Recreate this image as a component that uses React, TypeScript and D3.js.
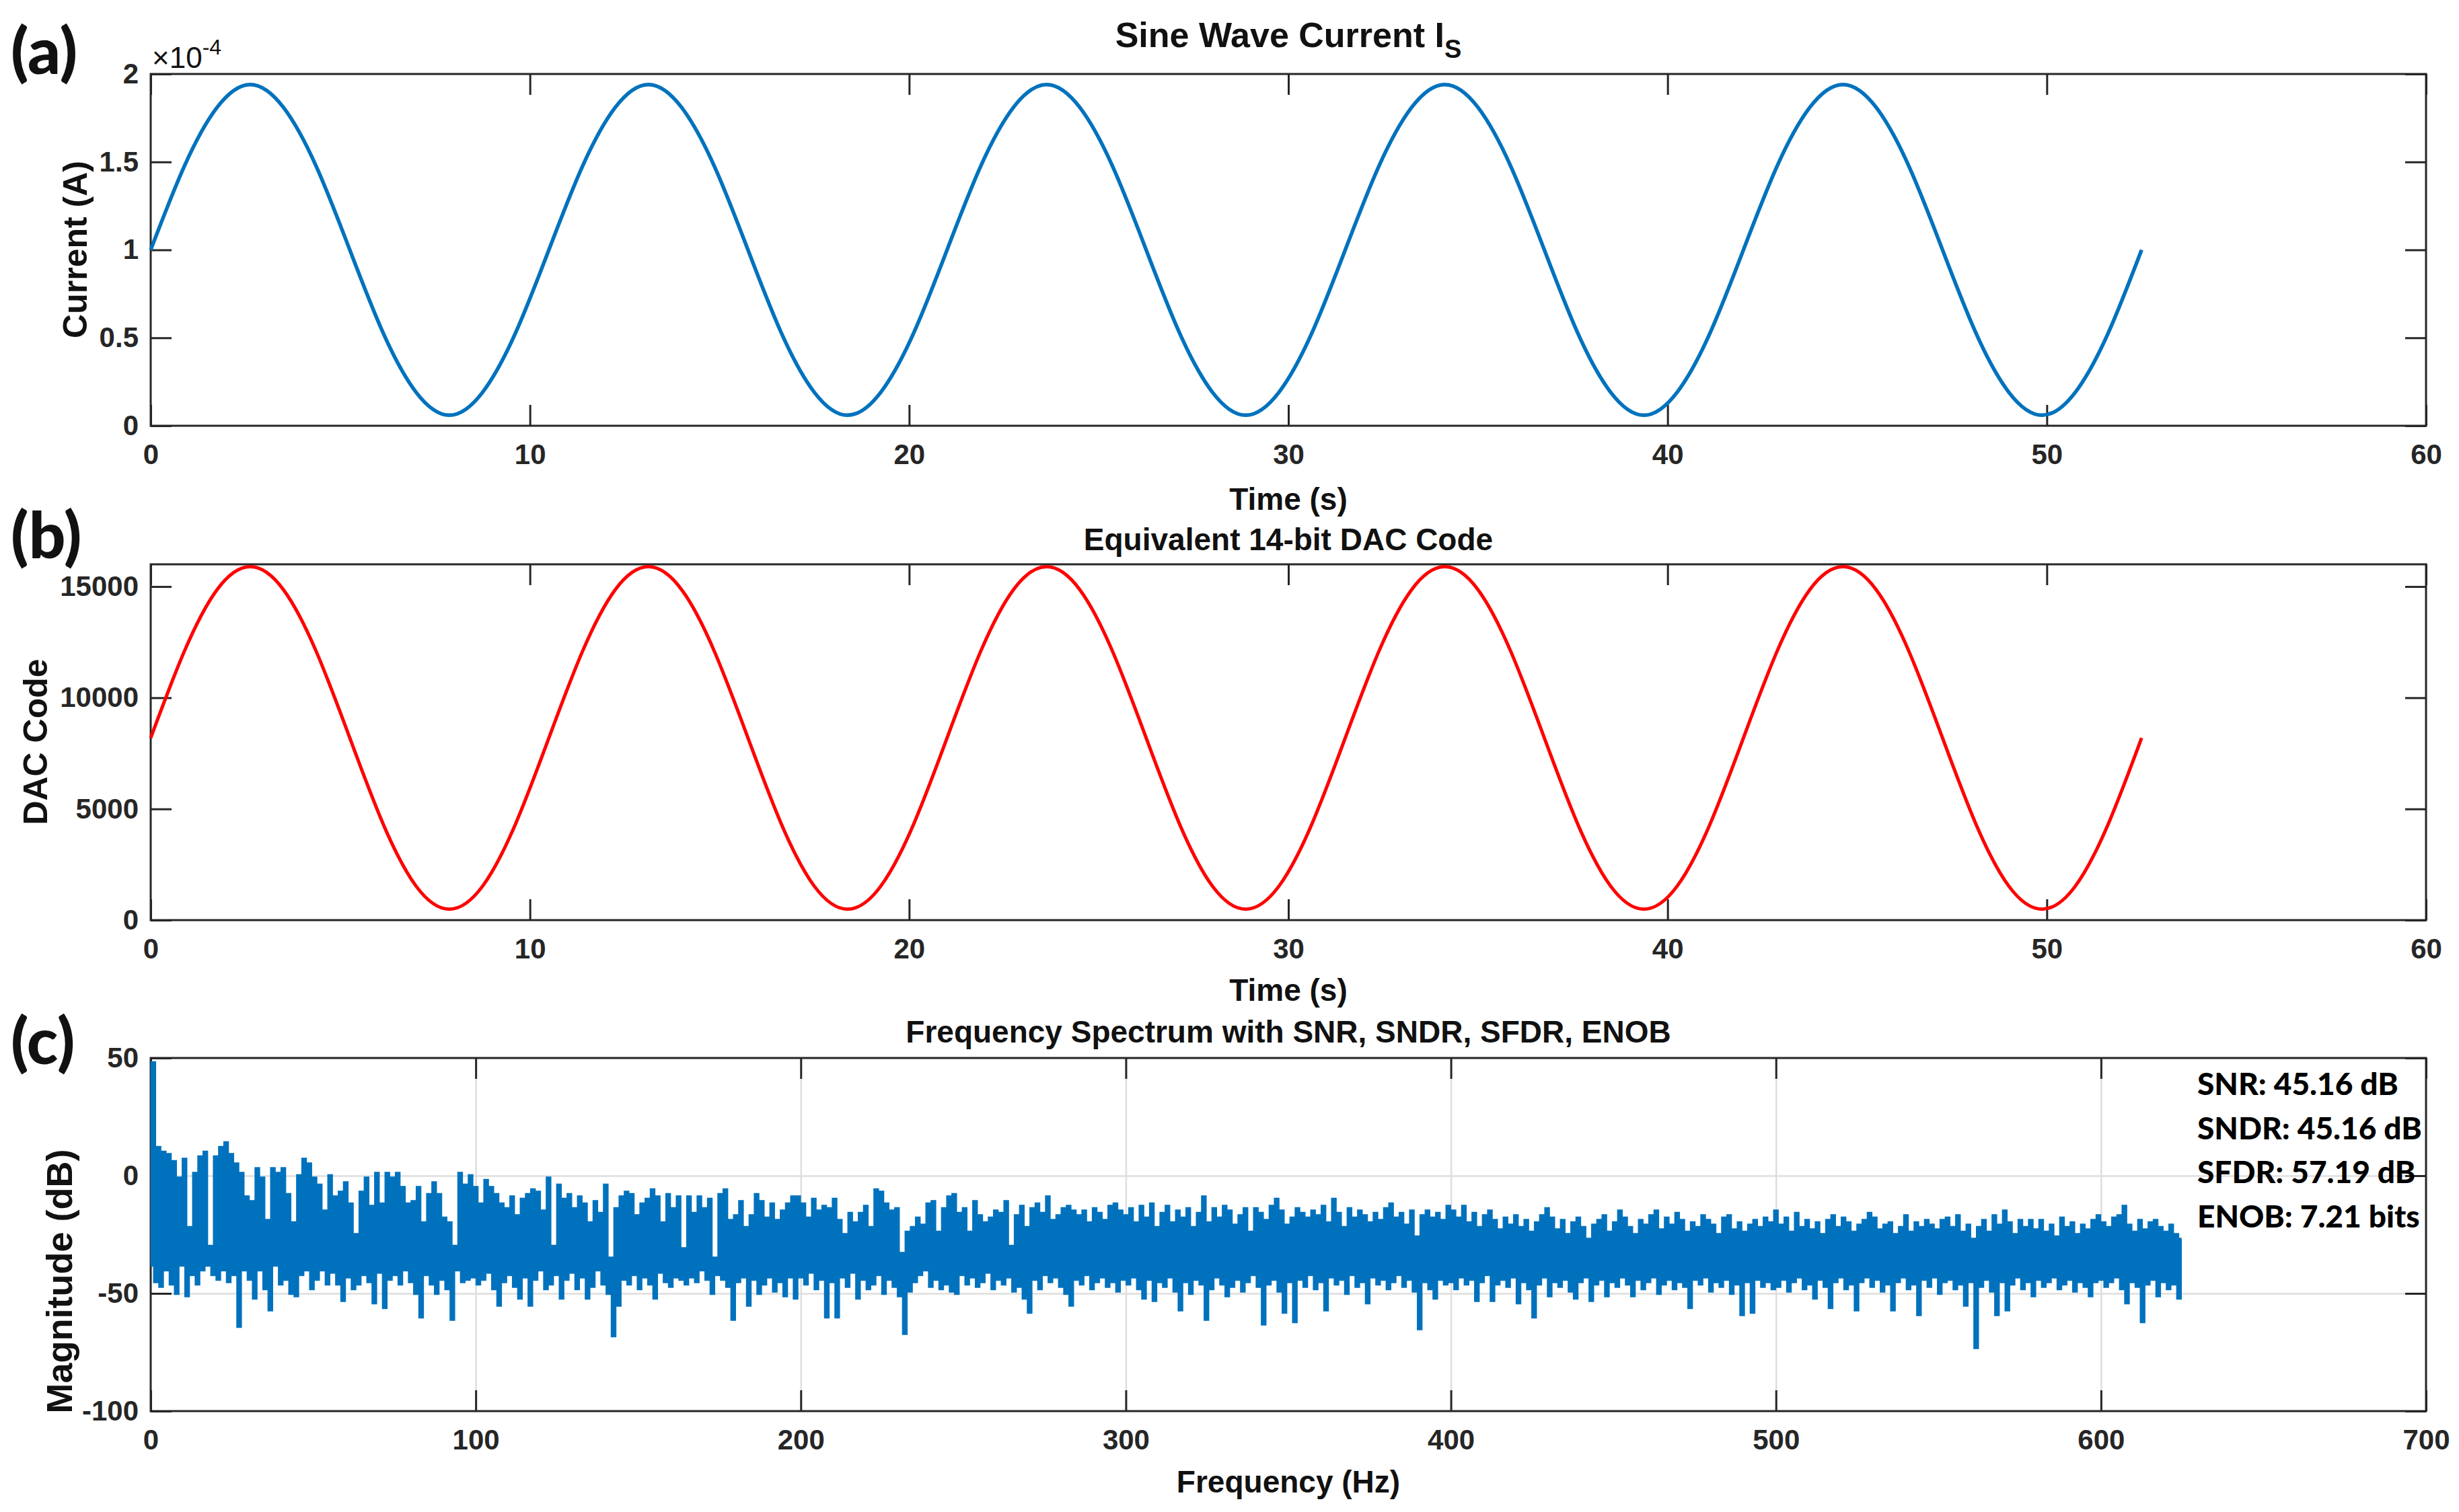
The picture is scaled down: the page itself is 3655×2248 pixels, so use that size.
import { useEffect, useRef } from 'react';
import * as d3 from 'd3';

const W = 3655;
const H = 2248;

// sine current, one sample every 0.875 s (12 per 10.5 s period), in units of 1e-4 A
const timeStep = 0.875;
const currentE4 = [
  1.0, 1.47, 1.81, 1.94, 1.81, 1.47, 1.0, 0.53, 0.19, 0.06, 0.19, 0.53,
  1.0, 1.47, 1.81, 1.94, 1.81, 1.47, 1.0, 0.53, 0.19, 0.06, 0.19, 0.53,
  1.0, 1.47, 1.81, 1.94, 1.81, 1.47, 1.0, 0.53, 0.19, 0.06, 0.19, 0.53,
  1.0, 1.47, 1.81, 1.94, 1.81, 1.47, 1.0, 0.53, 0.19, 0.06, 0.19, 0.53,
  1.0, 1.47, 1.81, 1.94, 1.81, 1.47, 1.0, 0.53, 0.19, 0.06, 0.19, 0.53,
  1.0,
];
const dacCode = [
  8192, 12042, 14860, 15892, 14860, 12042, 8192, 4342, 1524, 492, 1524, 4342,
  8192, 12042, 14860, 15892, 14860, 12042, 8192, 4342, 1524, 492, 1524, 4342,
  8192, 12042, 14860, 15892, 14860, 12042, 8192, 4342, 1524, 492, 1524, 4342,
  8192, 12042, 14860, 15892, 14860, 12042, 8192, 4342, 1524, 492, 1524, 4342,
  8192, 12042, 14860, 15892, 14860, 12042, 8192, 4342, 1524, 492, 1524, 4342,
  8192,
];

const timeTicks = [0, 10, 20, 30, 40, 50, 60];
const currentTicks = [0, 0.5, 1, 1.5, 2];
const dacTicks = [0, 5000, 10000, 15000];
const freqTicks = [0, 100, 200, 300, 400, 500, 600, 700];
const magTicks = [-100, -50, 0, 50];

// spectrum magnitude (dB), one bin every 0.8 Hz, split per 100 Hz band
const binStep = 0.8;
const spec000 = [
  -38, 48, -45, 12, -47, 10, -40, 9, -46, 6,
  -50, -1, -38, 7, -51, -22, -42, 1, -46, 8,
  -40, 10, -38, -30, -42, 8, -44, 12, -40, 14,
  -45, 9, -42, 5, -64, 1, -40, -9, -44, -11,
  -52, 3, -40, -1, -48, -19, -57, 3, -38, 1,
  -46, 3, -44, -8, -50, -20, -51, 0, -42, 7,
  -40, 5, -48, -1, -44, -4, -40, -15, -46, 0,
  -41, -9, -46, -7, -53, -3, -43, -12, -48, -25,
  -46, -7, -42, -1, -45, -13, -54, 1, -41, -12,
  -56, 1, -44, -1, -42, 1, -46, -5, -40, -12,
  -45, -11, -50, -5, -60, -20, -42, -8, -46, -3,
  -50, -8, -44, -18, -48, -20, -61, -30, -40, 1,
  -45, -4, -44, 0, -43,
];
const spec100 = [
  -5, -46, -12, -44, -2, -41, -5, -48, -8, -55, -12, -45, -14, -42, -9, -47, -17, -52, -10, -43,
  -8, -55, -6, -44, -7, -40, -15, -48, -1, -46, -30, -42, -4, -52, -10, -44, -8, -41, -14, -48,
  -9, -43, -12, -52, -20, -47, -11, -40, -16, -46, -4, -50, -35, -68, -14, -55, -9, -44, -7, -46,
  -8, -42, -17, -48, -12, -43, -10, -46, -6, -52, -9, -41, -20, -45, -8, -47, -14, -43, -9, -44,
  -31, -46, -9, -43, -16, -45, -9, -40, -14, -44, -10, -50, -35, -42, -8, -44, -6, -47, -19, -61,
  -17, -45, -11, -43, -22, -55, -17, -44, -8, -50, -11, -46, -18, -43, -12, -49, -19, -45, -15, -51,
  -12, -43, -9, -52, -9,
];
const spec200 = [
  -43, -12, -46, -18, -41, -10, -48, -15, -44, -13, -60, -14, -45, -10, -60, -19, -43, -25, -47, -16,
  -41, -20, -52, -16, -44, -13, -48, -22, -46, -6, -42, -7, -50, -12, -44, -15, -47, -14, -51, -33,
  -67, -24, -49, -22, -45, -18, -42, -21, -40, -12, -47, -11, -44, -24, -48, -14, -46, -9, -49, -8,
  -50, -16, -42, -14, -46, -24, -43, -11, -47, -17, -45, -20, -41, -18, -48, -15, -44, -16, -46, -11,
  -43, -30, -49, -17, -47, -13, -52, -22, -58, -14, -44, -12, -48, -16, -42, -9, -45, -19, -43, -17,
  -47, -14, -50, -13, -55, -15, -44, -17, -46, -15, -42, -20, -48, -14, -45, -16, -43, -19, -47, -13,
  -45, -12, -49, -15, -44,
];
const spec300 = [
  -17, -46, -14, -43, -20, -48, -13, -52, -18, -44, -12, -53, -22, -45, -16, -47, -13, -43, -20, -49,
  -15, -57, -18, -45, -14, -50, -22, -44, -16, -46, -9, -61, -20, -48, -14, -43, -18, -46, -13, -51,
  -15, -47, -21, -44, -17, -49, -14, -45, -24, -42, -14, -47, -16, -63, -19, -46, -13, -44, -10, -49,
  -15, -58, -21, -45, -18, -62, -14, -44, -16, -47, -18, -42, -15, -48, -17, -45, -13, -57, -20, -43,
  -10, -46, -16, -44, -22, -50, -14, -42, -18, -47, -15, -45, -17, -54, -20, -43, -16, -46, -19, -44,
  -14, -48, -12, -45, -18, -42, -16, -47, -21, -44, -15, -49, -26, -65, -17, -45, -15, -48, -18, -52,
  -16, -44, -19, -46, -13,
];
const spec400 = [
  -45, -15, -48, -18, -43, -13, -46, -20, -44, -16, -53, -22, -45, -17, -42, -15, -53, -19, -46, -23,
  -44, -18, -47, -21, -43, -17, -54, -22, -45, -19, -48, -24, -60, -20, -46, -17, -43, -14, -51, -18,
  -45, -23, -47, -19, -44, -25, -49, -20, -52, -18, -45, -22, -43, -27, -53, -21, -46, -19, -44, -17,
  -51, -24, -45, -20, -47, -15, -43, -18, -46, -22, -51, -25, -44, -19, -48, -21, -45, -17, -43, -15,
  -50, -23, -46, -18, -44, -21, -48, -16, -45, -19, -47, -24, -56, -20, -44, -22, -46, -17, -43, -19,
  -49, -21, -45, -25, -47, -18, -44, -17, -50, -23, -46, -20, -59, -24, -45, -21, -58, -19, -44, -22,
  -47, -18, -45, -20, -48,
];
const spec500 = [
  -15, -47, -21, -44, -18, -49, -24, -45, -16, -43, -22, -48, -19, -46, -23, -52, -20, -44, -25, -47,
  -19, -56, -17, -45, -22, -43, -18, -48, -20, -46, -24, -57, -21, -45, -19, -43, -16, -47, -18, -44,
  -23, -49, -21, -46, -20, -57, -25, -45, -22, -43, -17, -48, -24, -46, -20, -59, -22, -44, -19, -47,
  -21, -43, -23, -50, -19, -45, -18, -44, -22, -48, -17, -46, -24, -55, -21, -45,
  -27, -73, -22, -47, -19, -44, -24, -49, -17, -59, -21, -45, -15, -57, -20, -46, -25, -43, -19, -48,
  -22, -45, -19, -51, -23, -44, -19, -47, -24, -45, -21, -43, -26, -48, -18, -46, -22, -44, -20, -49,
  -25, -45, -21, -47, -23, -51, -19, -45, -17,
];
const spec600 = [
  -44, -20, -47, -22, -45, -18, -43, -17, -48, -13, -54, -21, -45, -24, -47, -19, -62, -23, -46, -20,
  -44, -19, -51, -22, -45, -24, -48, -21, -46, -25, -52, -27,
];
const bandStarts = [0, 100, 200, 300, 400, 500, 600];
const spectrumBands = [spec000, spec100, spec200, spec300, spec400, spec500, spec600];

const metricLines = ['SNR: 45.16 dB', 'SNDR: 45.16 dB', 'SFDR: 57.19 dB', 'ENOB: 7.21 bits'];

const FONT = "'Liberation Sans', Arial, Helvetica, sans-serif";
const NARROW = "'Liberation Sans Narrow', 'Arial Narrow', 'Liberation Sans', sans-serif";
const CAL = "Lato, 'Open Sans', sans-serif";
const AX = '#262626';

function drawAxes(svg, x, y, xTicks, yTicks, yFmt, tickFont, grid) {
  const [xl, xr] = x.range();
  const [yb, yt] = y.range();
  const g = svg.append('g');
  const tick = 31;

  if (grid) {
    g.append('g')
      .attr('transform', `translate(0,${yb})`)
      .call(d3.axisBottom(x).tickValues(xTicks.slice(1, -1)).tickSize(-(yb - yt)).tickFormat(() => ''))
      .call(s => s.select('.domain').remove())
      .selectAll('line').attr('stroke', '#dedede').attr('stroke-width', 2.5);
    g.append('g')
      .attr('transform', `translate(${xl},0)`)
      .call(d3.axisLeft(y).tickValues(yTicks.slice(1, -1)).tickSize(-(xr - xl)).tickFormat(() => ''))
      .call(s => s.select('.domain').remove())
      .selectAll('line').attr('stroke', '#dedede').attr('stroke-width', 2.5);
  }

  const style = sel => {
    sel.select('.domain').remove();
    sel.attr('font-size', 42).attr('font-family', tickFont).attr('font-weight', 'bold').style('color', AX);
    sel.selectAll('line').attr('stroke-width', 3);
  };

  g.append('g').attr('transform', `translate(0,${yb})`)
    .call(d3.axisBottom(x).tickValues(xTicks).tickSizeInner(-tick).tickSizeOuter(0).tickPadding(27).tickFormat(d => String(d)))
    .call(style);
  g.append('g').attr('transform', `translate(0,${yt})`)
    .call(d3.axisTop(x).tickValues(xTicks).tickSizeInner(-tick).tickSizeOuter(0).tickFormat(() => ''))
    .call(style);
  g.append('g').attr('transform', `translate(${xl},0)`)
    .call(d3.axisLeft(y).tickValues(yTicks).tickSizeInner(-tick).tickSizeOuter(0).tickPadding(18).tickFormat(yFmt))
    .call(style);
  g.append('g').attr('transform', `translate(${xr},0)`)
    .call(d3.axisRight(y).tickValues(yTicks).tickSizeInner(-tick).tickSizeOuter(0).tickFormat(() => ''))
    .call(style);

  g.append('rect')
    .attr('x', xl).attr('y', yt).attr('width', xr - xl).attr('height', yb - yt)
    .attr('fill', 'none').attr('stroke', AX).attr('stroke-width', 3);
}

function label(svg, txt, x, y, size, family, anchor = 'middle') {
  return svg.append('text')
    .attr('x', x).attr('y', y)
    .attr('text-anchor', anchor)
    .attr('font-family', family)
    .attr('font-size', size)
    .attr('font-weight', 'bold')
    .attr('fill', '#111')
    .text(txt);
}

function yLabel(svg, txt, cx, cy, size) {
  svg.append('text')
    .attr('transform', `translate(${cx},${cy}) rotate(-90)`)
    .attr('text-anchor', 'middle')
    .attr('dominant-baseline', 'central')
    .attr('font-family', FONT)
    .attr('font-size', size)
    .attr('font-weight', 'bold')
    .attr('fill', '#111')
    .text(txt);
}

export default function App() {
  const svgRef = useRef(null);

  useEffect(() => {
    document.body.style.margin = '0';
    const svg = d3.select(svgRef.current);
    svg.selectAll('*').remove();
    svg.append('rect').attr('width', W).attr('height', H).attr('fill', '#fff');

    const LEFT = 224;
    const RIGHT = 3606;
    const midX = (LEFT + RIGHT) / 2;

    // (a) sine wave current
    const xA = d3.scaleLinear().domain([0, 60]).range([LEFT, RIGHT]);
    const yA = d3.scaleLinear().domain([0, 2]).range([633, 110]);
    drawAxes(svg, xA, yA, timeTicks, currentTicks, d => String(d), NARROW, false);
    svg.append('path')
      .datum(currentE4)
      .attr('fill', 'none')
      .attr('stroke', '#0072BD')
      .attr('stroke-width', 5.5)
      .attr('d', d3.line().x((d, i) => xA(i * timeStep)).y(d => yA(d)).curve(d3.curveNatural));

    const tA = label(svg, 'Sine Wave Current I', midX, 70, 52, NARROW);
    tA.append('tspan').attr('dy', 16).attr('font-size', 38).text('S');
    const ex = label(svg, '×10', 226, 101, 44, NARROW, 'start').attr('font-weight', 'normal');
    ex.append('tspan').attr('dy', -20).attr('font-size', 32).text('-4');
    label(svg, 'Time (s)', midX, 758, 46, FONT);
    yLabel(svg, 'Current (A)', 112, 371, 50);
    label(svg, '(a)', 16, 110, 96, CAL, 'start').attr('font-weight', 900);

    // (b) DAC code
    const yB = d3.scaleLinear().domain([0, 16000]).range([1368, 839]);
    drawAxes(svg, xA, yB, timeTicks, dacTicks, d => String(d), FONT, false);
    svg.append('path')
      .datum(dacCode)
      .attr('fill', 'none')
      .attr('stroke', '#FF0000')
      .attr('stroke-width', 5)
      .attr('d', d3.line().x((d, i) => xA(i * timeStep)).y(d => yB(d)).curve(d3.curveNatural));
    label(svg, 'Equivalent 14-bit DAC Code', midX, 818, 46, FONT);
    label(svg, 'Time (s)', midX, 1488, 46, FONT);
    yLabel(svg, 'DAC Code', 53, 1103, 50);
    label(svg, '(b)', 16, 830, 96, CAL, 'start').attr('font-weight', 900);

    // (c) spectrum
    const xC = d3.scaleLinear().domain([0, 700]).range([LEFT, RIGHT]);
    const yC = d3.scaleLinear().domain([-100, 50]).range([2098, 1573]);
    drawAxes(svg, xC, yC, freqTicks, magTicks, d => String(d), FONT, true);
    const spectrum = spectrumBands.flatMap((arr, b) => arr.map((v, j) => [bandStarts[b] + j * binStep, v]));
    svg.append('path')
      .datum(spectrum)
      .attr('fill', 'none')
      .attr('stroke', '#0072BD')
      .attr('stroke-width', 4.5)
      .attr('stroke-linejoin', 'miter')
      .attr('d', d3.line().x(d => xC(d[0])).y(d => yC(d[1])).curve(d3.curveStep));
    label(svg, 'Frequency Spectrum with SNR, SNDR, SFDR, ENOB', midX, 1550, 46, FONT);
    label(svg, 'Frequency (Hz)', midX, 2219, 46, FONT);
    yLabel(svg, 'Magnitude (dB)', 88, 1905, 54);
    label(svg, '(c)', 16, 1582, 96, CAL, 'start').attr('font-weight', 900);

    metricLines.forEach((t, i) => {
      label(svg, t, 3266, 1628 + i * 65.5, 46, CAL, 'start').attr('fill', '#000').attr('font-weight', 900);
    });
  }, []);

  return <svg ref={svgRef} width={W} height={H} style={{ display: 'block' }} />;
}
